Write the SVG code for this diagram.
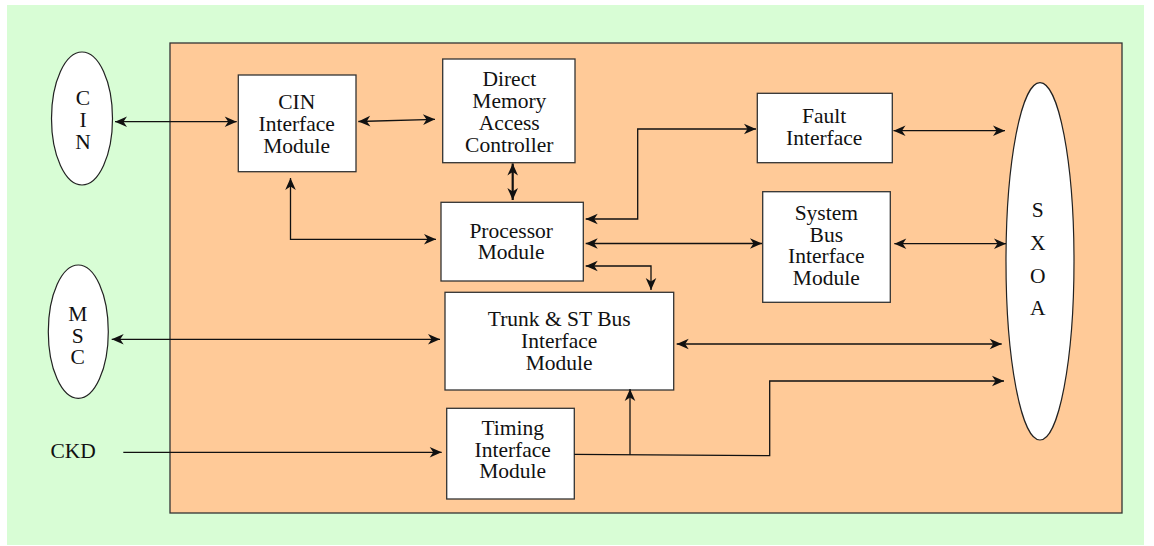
<svg xmlns="http://www.w3.org/2000/svg" width="1154" height="546" viewBox="0 0 1154 546">
  <style>
    .box { fill: #ffffff; stroke: #333333; stroke-width: 1.3; }
    .oval { fill: #ffffff; stroke: #222222; stroke-width: 1.2; }
    .lbl { font-family: "Liberation Serif", "Times New Roman", serif; font-size: 21.5px; fill: #111111; text-anchor: middle; }
    .wire { fill: none; stroke: #111111; stroke-width: 1.3; }
    .wire.bold { stroke-width: 2.2; }
  </style>
  <defs>
    <marker id="arrow" markerUnits="userSpaceOnUse" viewBox="-13 -6 14 12" refX="0" refY="0" markerWidth="14" markerHeight="12" orient="auto-start-reverse">
      <path d="M -12 -5.3 L 0 0 L -12 5.3 L -8.5 0 Z" fill="#111111"/>
    </marker>
  </defs>

  <!-- backdrop and board -->
  <rect x="7" y="5" width="1137" height="540" fill="#d8fdd5"/>
  <rect x="170" y="43" width="952" height="470" fill="#ffca98" stroke="#333333" stroke-width="1.3"/>

  <!-- external ports -->
  <g id="cin">
    <ellipse class="oval" cx="82" cy="118.5" rx="30.5" ry="66.5"/>
    <text class="lbl" x="83" y="105">C</text>
    <text class="lbl" x="83" y="127">I</text>
    <text class="lbl" x="83" y="149">N</text>
  </g>
  <g id="msc">
    <ellipse class="oval" cx="78.3" cy="331.7" rx="30" ry="66.7"/>
    <text class="lbl" x="77.7" y="321">M</text>
    <text class="lbl" x="77.7" y="342.7">S</text>
    <text class="lbl" x="77.7" y="364.3">C</text>
  </g>
  <g id="ckd">
    <text class="lbl" x="50.5" y="457.5" style="text-anchor:start">CKD</text>
  </g>
  <g id="sxoa">
    <ellipse class="oval" cx="1040" cy="261.3" rx="34" ry="178.7"/>
    <text class="lbl" x="1037.7" y="216.7">S</text>
    <text class="lbl" x="1037.7" y="250">X</text>
    <text class="lbl" x="1037.7" y="282.7">O</text>
    <text class="lbl" x="1037.7" y="315">A</text>
  </g>

  <!-- modules -->
  <g id="cin-interface">
    <rect class="box" x="238.3" y="75" width="117.7" height="96.7"/>
    <text class="lbl" x="296.7" y="109">CIN</text>
    <text class="lbl" x="296.7" y="131">Interface</text>
    <text class="lbl" x="296.7" y="153">Module</text>
  </g>
  <g id="dma">
    <rect class="box" x="442.7" y="59" width="132.3" height="103.7"/>
    <text class="lbl" x="509.3" y="85.7">Direct</text>
    <text class="lbl" x="509.3" y="108">Memory</text>
    <text class="lbl" x="509.3" y="129.5">Access</text>
    <text class="lbl" x="509.3" y="151.5">Controller</text>
  </g>
  <g id="processor">
    <rect class="box" x="441" y="202.3" width="142.3" height="78.7"/>
    <text class="lbl" x="511.2" y="237.7">Processor</text>
    <text class="lbl" x="511.2" y="259.3">Module</text>
  </g>
  <g id="fault">
    <rect class="box" x="757.3" y="93.3" width="135" height="69.4"/>
    <text class="lbl" x="824.2" y="123.3">Fault</text>
    <text class="lbl" x="824.2" y="145">Interface</text>
  </g>
  <g id="system-bus">
    <rect class="box" x="762.7" y="191.7" width="127.6" height="110.6"/>
    <text class="lbl" x="826.3" y="220">System</text>
    <text class="lbl" x="826.3" y="241.7">Bus</text>
    <text class="lbl" x="826.3" y="263.3">Interface</text>
    <text class="lbl" x="826.3" y="285">Module</text>
  </g>
  <g id="trunk">
    <rect class="box" x="445" y="292.3" width="228.7" height="97.7"/>
    <text class="lbl" x="559.2" y="326">Trunk &amp; ST Bus</text>
    <text class="lbl" x="559.2" y="348">Interface</text>
    <text class="lbl" x="559.2" y="370">Module</text>
  </g>
  <g id="timing">
    <rect class="box" x="446.7" y="408.3" width="127.6" height="90.7"/>
    <text class="lbl" x="512.7" y="435">Timing</text>
    <text class="lbl" x="512.7" y="456.7">Interface</text>
    <text class="lbl" x="512.7" y="478.3">Module</text>
  </g>

  <!-- connectors -->
  <g id="connectors">
    <path class="wire" d="M 115 121.7 L 236.7 121.7" marker-start="url(#arrow)" marker-end="url(#arrow)"/>
    <path class="wire" d="M 358.3 121.5 L 435 119.3" marker-start="url(#arrow)" marker-end="url(#arrow)"/>
    <path class="wire bold" d="M 512.7 163.5 L 512.7 200" marker-start="url(#arrow)" marker-end="url(#arrow)"/>
    <path class="wire" d="M 290.5 178 L 290.5 239.3 L 436 239.3" marker-start="url(#arrow)" marker-end="url(#arrow)"/>
    <path class="wire" d="M 585.7 219 L 637.7 219 L 637.7 129 L 756 129" marker-start="url(#arrow)" marker-end="url(#arrow)"/>
    <path class="wire" d="M 585.7 243.5 L 762 243.5" marker-start="url(#arrow)" marker-end="url(#arrow)"/>
    <path class="wire" d="M 585.7 266 L 651 266 L 651 290" marker-start="url(#arrow)" marker-end="url(#arrow)"/>
    <path class="wire" d="M 893.5 130.7 L 1005 130.7" marker-start="url(#arrow)" marker-end="url(#arrow)"/>
    <path class="wire" d="M 894.3 243.7 L 1006 243.7" marker-start="url(#arrow)" marker-end="url(#arrow)"/>
    <path class="wire" d="M 676.7 344 L 1001.7 344" marker-start="url(#arrow)" marker-end="url(#arrow)"/>
    <path class="wire" d="M 111.7 339.3 L 440 339.3" marker-start="url(#arrow)" marker-end="url(#arrow)"/>
    <path class="wire" d="M 123.3 452.3 L 441.7 452.3" marker-end="url(#arrow)"/>
    <path class="wire" d="M 574.3 454.3 L 769.7 455.7 L 769.7 381 L 1004 381" marker-end="url(#arrow)"/>
    <path class="wire" d="M 630 454.7 L 630 389" marker-end="url(#arrow)"/>
  </g>
</svg>
